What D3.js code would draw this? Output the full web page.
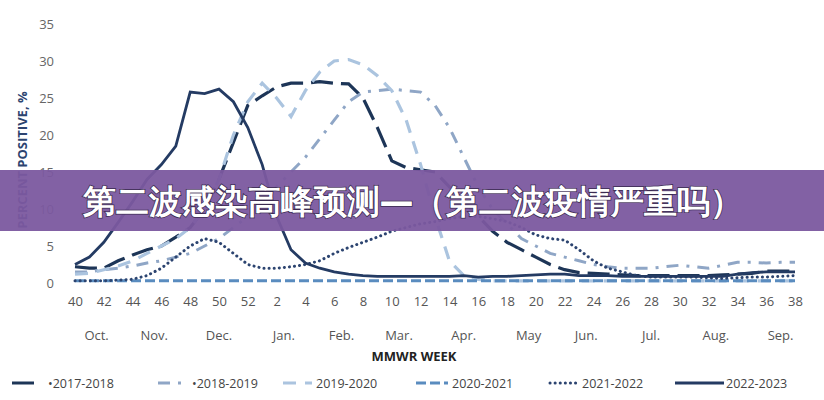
<!DOCTYPE html>
<html><head><meta charset="utf-8">
<script src="https://cdn.jsdelivr.net/npm/d3@7"></script>
<style>body{margin:0;background:#fff}text{font-family:"Liberation Sans Narrow","Open Sans",sans-serif}</style>
</head><body><svg id="c" width="824" height="400"></svg>
<script>
var weeks = [40,41,42,43,44,45,46,47,48,49,50,51,52,1,2,3,4,5,6,7,8,9,10,11,12,13,14,15,16,17,18,19,20,21,22,23,24,25,26,27,28,29,30,31,32,33,34,35,36,37,38];
var months = [["Oct.",1.5],["Nov.",5.5],["Dec.",10],["Jan.",14.5],["Feb.",18.5],["Mar.",22.5],["Apr.",27],["May",31.5],["Jun.",35.5],["Jul.",40],["Aug.",44.5],["Sep.",49]];
var s1718 = [2.2,2.0,2.0,3.0,3.8,4.5,5,6.2,7.5,10,14,19,24,25.3,26.5,27,27,27.2,27,26.9,25,21,16.5,15.6,15.3,15,13,11,9,7,5.5,4.5,3.5,2.5,1.8,1.4,1.3,1.2,1.1,1.0,1.0,1.0,1.0,1.0,1.0,1.1,1.2,1.3,1.6,1.6,1.6];
var s1819 = [1.5,1.5,1.8,2,2.3,2.7,3,3.5,4,5,6,7.5,9,11,13,15,17,19.5,22,24.5,25.8,26,26.2,26,25.8,24,21,17,13,10,8,6,5,4,3.5,3,2.5,2.2,2,2,2,2.2,2.4,2.2,2,2.4,2.8,2.8,2.7,2.8,2.8];
var s1920 = [1.2,1.3,1.8,2.3,3,4,5,6,7.5,10,14,20,24.5,27,25,22.5,26,28.5,30,30.2,29.5,28,26,22,16,9,3,1,0.5,0.3,0.3,0.3,0.3,0.3,0.3,0.3,0.3,0.3,0.3,0.3,0.3,0.3,0.3,0.3,0.3,0.3,0.3,0.3,0.3,0.3,0.3];
var s2021 = [0.3,0.3,0.3,0.3,0.3,0.3,0.3,0.3,0.3,0.3,0.3,0.3,0.3,0.3,0.3,0.3,0.3,0.3,0.3,0.3,0.3,0.3,0.3,0.3,0.3,0.3,0.3,0.3,0.3,0.3,0.3,0.3,0.3,0.3,0.3,0.3,0.3,0.3,0.3,0.3,0.3,0.3,0.3,0.3,0.3,0.3,0.3,0.3,0.3,0.3,0.3];
var s2122 = [0.3,0.3,0.3,0.4,0.5,1,2,3.5,5,6,5.5,4,2.5,2,2,2.2,2.5,3,4,4.8,5.5,6.2,7,7.5,8,8.3,8.7,9,9,8.7,8.3,7.5,6.5,6,5.8,4.5,3,2,1.5,1,0.8,0.8,0.8,0.8,0.7,0.6,0.7,0.8,0.8,0.9,1];
var s2223 = [2.5,3.5,5.5,8.2,11,14,16,18.5,25.8,25.6,26.2,24.5,21,16,9,4.5,2.7,2.0,1.5,1.2,1.0,0.9,0.9,0.9,0.9,0.9,0.9,1.0,0.8,0.9,0.9,1.0,1.1,1.2,1.2,1.0,1.0,1.0,0.9,0.9,0.9,0.9,0.9,0.9,0.9,0.9,1.2,1.4,1.5,1.5,1.5];
var yTicks = [0,5,10,15,20,25,30,35];

var series = [
  {name:"•2017-2018", v:s1718, c:"#1d3557", dash:"22,8", w:3.2},
  {name:"•2018-2019", v:s1819, c:"#8fa6c6", dash:"12,8,3,8", w:3},
  {name:"2019-2020", v:s1920, c:"#abc4df", dash:"13,9", w:3.2},
  {name:"2020-2021", v:s2021, c:"#5a8cbf", dash:"10,4", w:3},
  {name:"2021-2022", v:s2122, c:"#2c4470", dash:"0.1,5", w:3, cap:"round"},
  {name:"2022-2023", v:s2223, c:"#243b63", dash:null, w:2.8}
];

var svg = d3.select("#c");
var x = d3.scaleLinear().domain([0,50]).range([75,795]);
var y = d3.scaleLinear().domain([0,35]).range([283,24]);

svg.append("g").attr("transform","translate(54,0)")
  .call(d3.axisLeft(y).tickValues(yTicks).tickSize(0).tickPadding(0))
  .call(g=>g.select(".domain").remove())
  .selectAll("text").attr("fill","#666").attr("font-size",13).attr("text-anchor","end");

svg.append("g").attr("transform","translate(0,297)")
  .call(d3.axisBottom(x).tickValues(d3.range(0,51,2)).tickFormat(i=>weeks[i]).tickSize(0).tickPadding(0))
  .call(g=>g.select(".domain").remove())
  .selectAll("text").attr("fill","#555").attr("font-size",13);

svg.selectAll(".mon").data(months).join("text").attr("class","mon")
  .attr("x",d=>x(d[1])).attr("y",340).attr("text-anchor","middle")
  .attr("fill","#555").attr("font-size",13).text(d=>d[0]);

svg.append("text").attr("x",414).attr("y",361).attr("text-anchor","middle")
  .attr("font-weight","bold").attr("font-size",13).attr("fill","#222").text("MMWR WEEK");
svg.append("text").attr("transform","translate(27,160) rotate(-90)").attr("text-anchor","middle")
  .attr("font-weight","bold").attr("font-size",13).attr("fill","#2c4470").text("PERCENT POSITIVE, %");

var line = d3.line().x((d,i)=>x(i)).y(d=>y(d));
series.forEach(s=>{
  svg.append("path").datum(s.v).attr("d",line).attr("fill","none")
    .attr("stroke",s.c).attr("stroke-width",s.w)
    .attr("stroke-dasharray",s.dash).attr("stroke-linecap",s.cap||"butt");
});

// legend: [line start, line end, text start]
var leg = [[12,40,48],[158,188,192],[283,312,316],[416,448,452],[550,578,582],[675,724,726]];
series.forEach((s,i)=>{
  var g = svg.append("g").attr("transform","translate(0,383)");
  g.append("line").attr("x1",leg[i][0]).attr("x2",leg[i][1]).attr("stroke",s.c).attr("stroke-width",3)
    .attr("stroke-dasharray",s.dash).attr("stroke-linecap",s.cap||"butt");
  g.append("text").attr("x",leg[i][2]).attr("y",4.5).attr("font-size",12.5).attr("fill","#444").text(s.name);
});

// banner overlay
svg.append("rect").attr("x",0).attr("y",170).attr("width",824).attr("height",61)
  .attr("fill","#7b589f").attr("opacity",0.95);
svg.append("text").attr("x",413).attr("y",213).attr("text-anchor","middle")
  .attr("font-family","'Noto Sans CJK SC'").attr("font-weight","900").attr("font-size",33)
  .attr("fill","#fff").attr("stroke","#3a2a50").attr("stroke-width",1.5).attr("paint-order","stroke")
  .text("第二波感染高峰预测—（第二波疫情严重吗）");
</script></body></html>
